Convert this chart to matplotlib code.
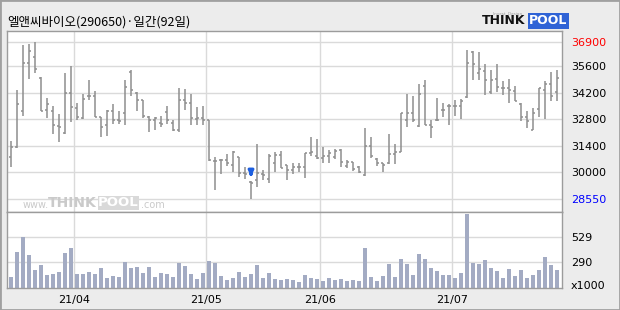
import numpy as np
import matplotlib.pyplot as plt
from matplotlib.patches import Rectangle

title = '엘앤씨바이오(290650)·일간(92일)'

# daily OHLC, 92 trading days (2021-03-17 .. 2021-07-26)
opens = [30800, 31300, 33250, 35800, 36100, 35000, 33300, 33250, 32450, 32050,
         34200, 33400, 32850, 34000, 34050, 32900, 32500, 33250, 32750, 33150,
         35300, 34200, 33800, 32900, 32750, 32600, 33200, 32600, 32200, 33800,
         33650, 32800, 32850, 32750, 30600, 30650, 30650, 30350, 30800, 29950,
         29450, 29600, 29900, 29650, 30500, 30900, 30350, 30100, 30250, 30250,
         31000, 30850, 30750, 30850, 30800, 31150, 30300, 30550, 30250, 29850,
         31400, 30700, 30450, 30450, 30950, 31050, 32750, 33100, 32450, 34550,
         32500, 32750, 33300, 33500, 33500, 33500, 33950, 36350, 35250, 35350,
         34250, 34950, 34450, 34450, 34300, 33600, 32900, 32200, 33350, 34350,
         34650, 34250]
highs = [31650, 34350, 36750, 36800, 36900, 35050, 33900, 33500, 33050, 35250,
         35600, 33650, 34150, 34900, 34300, 32900, 33300, 33600, 33250, 34900,
         35400, 34250, 33800, 32950, 32900, 32950, 33500, 32750, 34450, 34400,
         34150, 33450, 33500, 32750, 30800, 30700, 30950, 31100, 30800, 30250,
         29500, 31500, 30100, 30950, 31050, 31100, 30350, 30450, 30500, 31000,
         31850, 31750, 31350, 31150, 31200, 31200, 30650, 30550, 30300, 32350,
         31850, 30750, 30500, 32000, 31500, 33150, 34150, 34050, 34650, 34850,
         32750, 33900, 33650, 33600, 33800, 33850, 36450, 36400, 36350, 35700,
         35400, 35700, 34800, 34950, 34550, 33650, 33250, 33400, 34450, 34800,
         35300, 35400]
lows = [30250, 31250, 32950, 34950, 35250, 33250, 32850, 32000, 31600, 32000,
        32650, 32750, 32800, 33800, 32900, 31850, 31900, 32550, 32550, 32500,
        34050, 33250, 32850, 32100, 32200, 32400, 32550, 32150, 32100, 33300,
        32500, 32500, 32500, 30600, 29050, 29900, 30300, 30000, 29750, 29650,
        28550, 29200, 29550, 29400, 30000, 30200, 29550, 29900, 30000, 29700,
        30850, 30700, 30450, 30500, 30700, 30250, 30200, 30050, 29950, 29800,
        30750, 30300, 30000, 30400, 30400, 31050, 32400, 32650, 32400, 32500,
        31800, 32700, 32900, 32500, 32950, 32800, 33900, 34900, 34850, 34100,
        34150, 34250, 34100, 33650, 33750, 32700, 32350, 32200, 32900, 32800,
        33750, 33750]
closes = [31350, 33600, 35750, 36400, 35450, 33250, 33600, 32500, 32400, 34200,
          33450, 32900, 33850, 34050, 32900, 32400, 33250, 32750, 32700, 34500,
          34350, 33800, 32950, 32750, 32850, 32550, 32750, 32250, 33800, 33650,
          32850, 32850, 32750, 30650, 30600, 30650, 30500, 31050, 29950, 29900,
          29400, 29950, 29850, 30850, 30900, 30200, 30100, 30250, 30250, 31000,
          31050, 30750, 30850, 31000, 31100, 30550, 30550, 30150, 30000, 31400,
          30850, 30500, 30350, 30950, 31050, 33100, 33100, 32750, 34150, 32500,
          32400, 32750, 33300, 33500, 33500, 33750, 35800, 35700, 35450, 34850,
          34900, 34500, 34450, 34350, 33750, 32900, 32700, 33150, 34450, 34650,
          34000, 35000]
# volume, thousands of shares
volumes = [153, 392, 535, 363, 217, 264, 172, 182, 201, 382,
           427, 182, 182, 201, 182, 236, 140, 159, 150, 293,
           236, 245, 191, 245, 150, 188, 182, 150, 284, 255,
           178, 131, 188, 303, 287, 159, 121, 140, 201, 150,
           178, 264, 140, 188, 131, 121, 131, 121, 102, 169,
           140, 131, 112, 140, 121, 131, 112, 121, 112, 427,
           150, 112, 159, 274, 150, 322, 274, 169, 370, 322,
           236, 207, 169, 169, 140, 188, 752, 287, 274, 312,
           236, 207, 140, 226, 159, 217, 140, 169, 217, 341,
           264, 217]

month_labels = ['21/04', '21/05', '21/06', '21/07']
month_starts = [11, 33, 52, 74]
price_ticks = [28550, 30000, 31400, 32800, 34200, 35600, 36900]
vol_ticks = [290, 529]
low_day = 40

W, H = 620, 310
grid_c = '#dadada'
frame_c = '#9c9c9c'
bar_c = '#8e8e8e'
vol_c = '#a3abc3'
lab_font = ['Liberation Sans Narrow', 'DejaVu Sans']
kr_font = ['Noto Sans CJK KR', 'DejaVu Sans']


def px(x, y):
    return x / W, 1 - y / H


fig = plt.figure(figsize=(6.2, 3.1), dpi=100, facecolor='#ececec')
ax = fig.add_axes([7 / W, 98 / H, 555 / W, 181 / H])
axv = fig.add_axes([7 / W, 22 / H, 555 / W, 76 / H], sharex=ax)

x = np.arange(len(opens))
ax.vlines(x, lows, highs, color=bar_c, lw=1.1)
ax.hlines(opens, x - 0.35, x, color=bar_c, lw=1.1)
ax.hlines(closes, x, x + 0.35, color=bar_c, lw=1.1)
ax.annotate('', xy=(low_day, highs[low_day] + 120), xytext=(low_day, highs[low_day] + 560),
            arrowprops=dict(arrowstyle='-|>', color='#1d5fe0', lw=2.2, mutation_scale=7))

axv.bar(x, volumes, width=0.72, color=vol_c)

xl = (-0.67, len(opens) - 0.17)
ax.set_xlim(*xl)
ax.set_ylim(27880, 37470)
axv.set_ylim(45, 771)

for a in (ax, axv):
    a.set_facecolor('white')
    for s in a.spines.values():
        s.set_color(frame_c)
        s.set_linewidth(1.0)
    a.set_axisbelow(True)
    a.grid(True, color=grid_c, lw=1.0)
    a.yaxis.tick_right()
    a.tick_params(length=0, labelsize=8, pad=6.5)
    a.set_xticks([m - 0.5 for m in month_starts])

ax.set_yticks(price_ticks)
ax.set_yticklabels([str(t) for t in price_ticks], family=lab_font)
ax.get_yticklabels()[0].set_color('#0000ff')
ax.get_yticklabels()[-1].set_color('#ff0000')
ax.tick_params(axis='x', labelbottom=False)

axv.set_yticks(vol_ticks)
axv.set_yticklabels([str(t) for t in vol_ticks], family=lab_font)
axv.set_xticklabels(month_labels, family=lab_font)
axv.tick_params(axis='x', pad=5)
fig.text(*px(571, 286), 'x1000', fontsize=8, family=lab_font, va='center')

# title
fig.text(*px(7, 22), title, fontsize=9, family=kr_font, va='center')

# logo
fig.text(*px(482, 21), 'THINK', fontsize=9, weight='bold', color='#111111', va='center')
fig.text(*px(529, 21), 'POOL', fontsize=9, weight='bold', color='white', va='center',
         bbox=dict(boxstyle='square,pad=0.12', fc='#2f63d6', ec='none'))
fig.text(*px(493, 14), 'Invest  Design', fontsize=3, color='#999999', va='center')

# watermark
wm = '#cacaca'
fig.text(*px(23, 205), 'www.', fontsize=7, color=wm, va='center')
fig.text(*px(48, 203), 'THINK', fontsize=10, weight='bold', color=wm, va='center')
fig.text(*px(98, 203), 'POOL', fontsize=9.5, weight='bold', color='white', va='center',
         bbox=dict(boxstyle='square,pad=0.03', fc='#d9d9d9', ec='none'))
fig.text(*px(141, 205), '.com', fontsize=7, color=wm, va='center')

fig.patches.append(Rectangle((0, 0), 1, 1, transform=fig.transFigure, fill=False,
                             edgecolor='#a0a0a0', lw=2))

plt.savefig('out.png', dpi=100, facecolor=fig.get_facecolor())
